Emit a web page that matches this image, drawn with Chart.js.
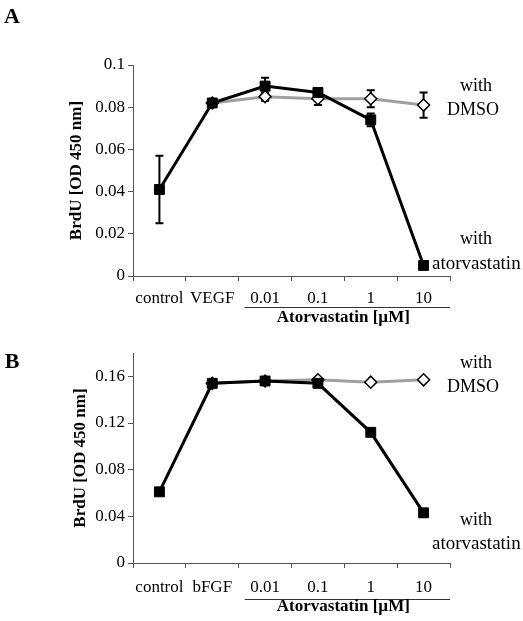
<!DOCTYPE html>
<html>
<head>
<meta charset="utf-8">
<script src="https://cdn.jsdelivr.net/npm/chart.js@4"></script>
<style>
  html, body { margin: 0; padding: 0; background: #fff; }
  canvas { position: absolute; left: 0; }
  #chartA { top: 0; }
  #chartB { top: 330px; }
</style>
</head>
<body>
<canvas id="chartA" width="523" height="330"></canvas>
<canvas id="chartB" width="523" height="291"></canvas>
<script>
// panel A: VEGF
const catsA = ["control", "VEGF", "0.01", "0.1", "1", "10"];
const atorvA = [0.041, 0.082, 0.090, 0.087, 0.074, 0.005];
const atorvErrA = [0.016, 0.001, 0.004, 0.002, 0.003, 0.001];
const dmsoA = [null, 0.082, 0.085, 0.084, 0.084, 0.081];
const dmsoErrA = [0, 0, 0.002, 0.003, 0.004, 0.006];

// panel B: bFGF
const catsB = ["control", "bFGF", "0.01", "0.1", "1", "10"];
const atorvB = [0.061, 0.154, 0.156, 0.154, 0.112, 0.043];
const dmsoB = [null, 0.154, 0.156, 0.157, 0.155, 0.157];

const serif = "'Liberation Serif', 'Times New Roman', serif";

// error bars drawn under the lines/markers
const errorBars = {
  id: "errorBars",
  beforeDatasetsDraw(chart) {
    const ctx = chart.ctx;
    const y = chart.scales.y;
    chart.data.datasets.forEach((ds, i) => {
      if (!ds.errors) return;
      const meta = chart.getDatasetMeta(i);
      meta.data.forEach((pt, j) => {
        const e = ds.errors[j];
        const v = ds.data[j];
        if (!e || v == null) return;
        const top = y.getPixelForValue(v + e);
        const bot = y.getPixelForValue(v - e);
        ctx.save();
        ctx.strokeStyle = "#000";
        ctx.lineWidth = 2;
        ctx.beginPath();
        ctx.moveTo(pt.x, top); ctx.lineTo(pt.x, bot);
        ctx.moveTo(pt.x - 4, top); ctx.lineTo(pt.x + 4, top);
        ctx.moveTo(pt.x - 4, bot); ctx.lineTo(pt.x + 4, bot);
        ctx.stroke();
        ctx.restore();
      });
    });
  }
};

// panel letter, side notes, concentration bracket
const annot = {
  id: "annot",
  afterDraw(chart, args, opts) {
    const ctx = chart.ctx;
    const x = chart.scales.x;
    const area = chart.chartArea;
    ctx.save();
    ctx.fillStyle = "#000";
    ctx.textBaseline = "middle";
    (opts.notes || []).forEach(n => {
      ctx.font = (n.bold ? "bold " : "") + n.size + "px " + serif;
      ctx.textAlign = n.align || "center";
      ctx.fillText(n.text, n.x, n.y);
    });
    const x0 = (x.getPixelForValue(1) + x.getPixelForValue(2)) / 2 + 6;
    const x1 = area.right;
    const ly = area.bottom + opts.lineOffset;
    ctx.strokeStyle = "#333";
    ctx.lineWidth = 1;
    ctx.beginPath();
    ctx.moveTo(x0, ly + 0.5); ctx.lineTo(x1, ly + 0.5);
    ctx.stroke();
    ctx.font = "bold 17px " + serif;
    ctx.textAlign = "center";
    ctx.fillText("Atorvastatin [\u00b5M]", (x0 + x1) / 2 - 4, area.bottom + opts.labelOffset);
    ctx.restore();
  }
};

function makeChart(id, cats, atorv, atorvErr, dmso, dmsoErr, yMax, step, labelEvery, pad, xHeight, tickPad, notes, lineOffset, labelOffset) {
  return new Chart(document.getElementById(id), {
    type: "line",
    data: {
      labels: cats,
      datasets: [
        {
          label: "with atorvastatin",
          data: atorv,
          errors: atorvErr,
          borderColor: "#000",
          borderWidth: 3,
          pointStyle: "rect",
          pointRadius: 7,
          pointBackgroundColor: "#000",
          pointBorderColor: "#000",
          pointBorderWidth: 1,
          tension: 0
        },
        {
          label: "with DMSO",
          data: dmso,
          errors: dmsoErr,
          borderColor: "#a0a0a0",
          borderWidth: 3,
          pointStyle: "rectRot",
          pointRadius: 6,
          pointBackgroundColor: "#fff",
          pointBorderColor: "#000",
          pointBorderWidth: 1.5,
          tension: 0
        }
      ]
    },
    options: {
      responsive: false,
      animation: false,
      devicePixelRatio: 1,
      layout: { padding: pad },
      plugins: {
        legend: { display: false },
        tooltip: { enabled: false },
        annot: { notes: notes, lineOffset: lineOffset, labelOffset: labelOffset }
      },
      scales: {
        x: {
          offset: true,
          grid: { offset: true, drawOnChartArea: false, tickLength: 5, color: "#555" },
          border: { color: "#555", width: 1 },
          ticks: { color: "#000", font: { family: serif, size: 17 }, padding: tickPad, maxRotation: 0, autoSkip: false },
          afterFit(s) { s.height = xHeight; }
        },
        y: {
          min: 0,
          max: yMax,
          grid: { drawOnChartArea: false, tickLength: 5, color: "#555" },
          border: { color: "#555", width: 1 },
          ticks: {
            stepSize: step,
            color: "#000",
            padding: 3,
            font: { family: serif, size: 17 },
            callback(v) {
              const k = Math.round(v / step);
              if (k % labelEvery !== 0) return "";
              return String(Number(v.toFixed(2)));
            }
          },
          title: {
            display: true,
            text: "BrdU [OD 450 nm]",
            color: "#000",
            font: { family: serif, size: 17, weight: "bold" },
            padding: { top: 2, bottom: 0 }
          },
          afterFit(s) { s.width = 133 - pad.left; }
        }
      }
    },
    plugins: [errorBars, annot]
  });
}

makeChart("chartA", catsA, atorvA, atorvErrA, dmsoA, dmsoErrA, 0.1, 0.01, 2,
  { left: 64, right: 73, top: 65, bottom: 0 }, 54, 7,
  [
    { text: "A", x: 12, y: 17, size: 22, bold: true },
    { text: "with", x: 476, y: 86, size: 18 },
    { text: "DMSO", x: 473, y: 110, size: 18 },
    { text: "with", x: 476, y: 239, size: 18 },
    { text: "atorvastatin", x: 432, y: 264, size: 19, align: "left" }
  ], 31, 42);

makeChart("chartB", catsB, atorvB, [], dmsoB, [], 0.18, 0.02, 2,
  { left: 68, right: 73, top: 23, bottom: 0 }, 58, 9,
  [
    { text: "B", x: 12, y: 32, size: 22, bold: true },
    { text: "with", x: 476, y: 33, size: 18 },
    { text: "DMSO", x: 473, y: 57, size: 18 },
    { text: "with", x: 476, y: 190, size: 18 },
    { text: "atorvastatin", x: 432, y: 214, size: 19, align: "left" }
  ], 36, 44);
</script>
</body>
</html>
